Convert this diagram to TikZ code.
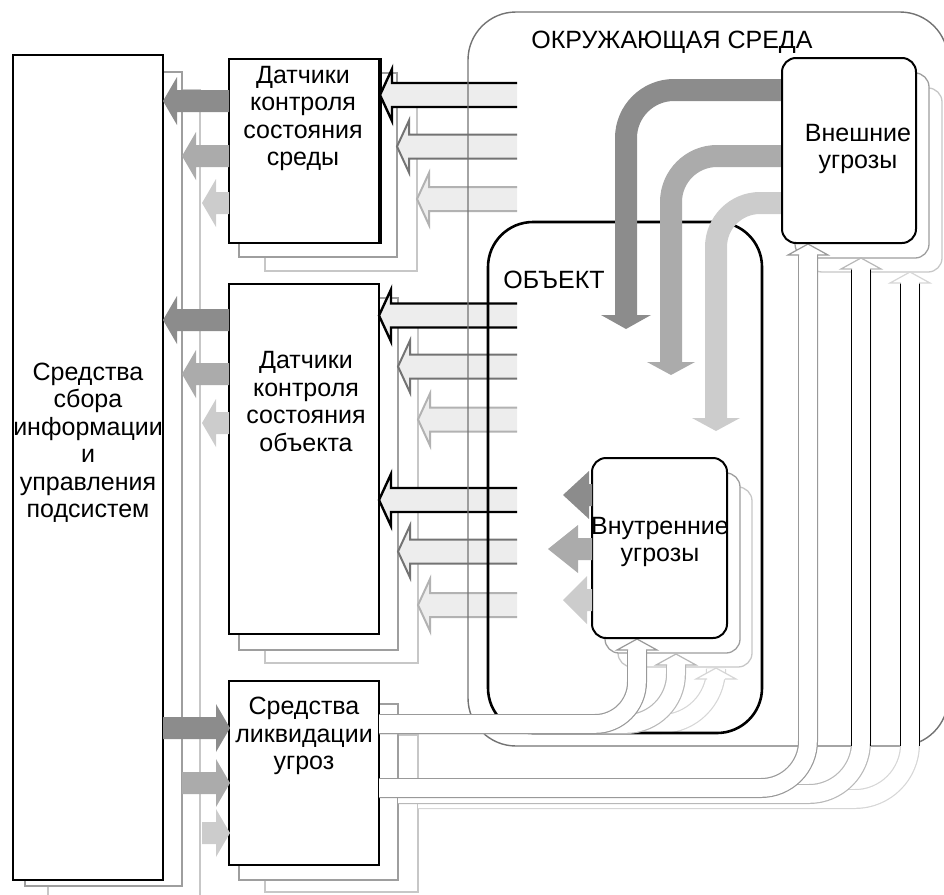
\documentclass[tikz,border=0pt]{standalone}
\usepackage{fontspec}
\setmainfont{Liberation Sans}
\definecolor{tone1}{gray}{0.55}
\definecolor{tone2}{gray}{0.67}
\definecolor{tone3}{gray}{0.80}
\definecolor{shaft}{gray}{0.93}
\definecolor{inmid}{gray}{0.45}
\definecolor{inlight}{gray}{0.70}
\definecolor{ghostline}{gray}{0.62}
\definecolor{ghostfarline}{gray}{0.78}
\definecolor{envline}{gray}{0.45}
\definecolor{pipenear}{gray}{0.60}
\definecolor{pipemid}{gray}{0.72}
\definecolor{pipefar}{gray}{0.84}
\tikzset{
  box/.style={draw, line width=1.6pt, fill=white, inner sep=0pt},
  ghost/.style={draw=ghostline, line width=1.3pt, fill=white},
  ghostfar/.style={draw=ghostfarline, line width=1.3pt, fill=white},
  caption/.style={align=center, inner sep=0pt, font=\fontsize{25}{27.5}\selectfont},
  pipe/.style={double=white, double distance=17.6pt, line width=1.2pt},
}
% hollow arrow into a sensor block: colour, centre y, tip x, line width
\newcommand{\inflow}[4]{%
  \filldraw[draw=#1, fill=shaft, line width=#4] (517,{#2-12}) -- ({#3+12},{#2-12}) -- ({#3+12},{#2-26})
    -- (#3,#2) -- ({#3+12},{#2+26}) -- ({#3+12},{#2+12}) -- (517,{#2+12});}
% solid arrow: colour, centre y, tip x, tail x, head length (negative points right)
\newcommand{\outflow}[5]{%
  \fill[#1] (#4,{#2-11}) -- ({#3+(#5)},{#2-11}) -- ({#3+(#5)},{#2-24}) -- (#3,#2)
    -- ({#3+(#5)},{#2+24}) -- ({#3+(#5)},{#2+11}) -- (#4,{#2+11}) -- cycle;}
% open head on a pipe: colour, x, tip y
\newcommand{\pipehead}[3]{%
  \fill[white] ({#2-20},{#3+11}) -- (#2,#3) -- ({#2+20},{#3+11}) -- cycle;
  \draw[#1, line width=1.2pt] ({#2-9},{#3+11}) -- ({#2-20},{#3+11}) -- (#2,#3)
    -- ({#2+20},{#3+11}) -- ({#2+9},{#3+11});}
\begin{document}
\begin{tikzpicture}[x=1pt,y=-1pt]
  \useasboundingbox (0,0) rectangle (944,894);
  % stacked copies of the blocks
  \draw[ghostfar] (48,90) rectangle (200,900);
  \draw[ghost] (25,72) rectangle (182,886);
  \draw[ghostfar] (265,87) rectangle (417,271);
  \draw[ghost] (239,73) rectangle (397,257);
  \draw[ghostfar] (265,312) rectangle (418,663);
  \draw[ghost] (239,298) rectangle (398,650);
  \draw[ghostfar] (265,735) rectangle (418,892);
  \draw[ghost] (239,704) rectangle (398,880);
  % blocks
  \node[box, minimum width=150pt, minimum height=825pt] (hub) at (88,467.5) {};
  \node[box, minimum width=150pt, minimum height=184pt] (sensEnv) at (304,151) {};
  \draw[line width=4pt] (sensEnv.north east) -- (sensEnv.south east);
  \node[box, minimum width=150pt, minimum height=350pt] (sensObj) at (304,459) {};
  \node[box, minimum width=150pt, minimum height=184pt] (elim) at (304,773) {};
  \node[caption] (hubText) at (88,443) {Средства\\сбора\\информации\\и\\управления\\подсистем};
  \node[caption] (sensEnvText) at (303,118.5) {Датчики\\контроля\\состояния\\среды};
  \node[caption] (sensObjText) at (306,401.5) {Датчики\\контроля\\состояния\\объекта};
  \node[caption] (elimText) at (304,736) {Средства\\ликвидации\\угроз};
  % signals into the sensors
  \inflow{black}{95}{380}{2.4pt}
  \inflow{inmid}{146.5}{397}{2pt}
  \inflow{inlight}{199}{417}{2pt}
  \inflow{black}{315.5}{379}{2.4pt}
  \inflow{inmid}{366.5}{398}{2pt}
  \inflow{inlight}{419.5}{418}{2pt}
  \inflow{black}{500}{379}{2.4pt}
  \inflow{inmid}{551.5}{398}{2pt}
  \inflow{inlight}{605}{418}{2pt}
  % sensors to the hub, hub to the elimination block
  \outflow{tone1}{101}{163}{229}{14}
  \outflow{tone2}{156}{182}{229}{14}
  \outflow{tone3}{203}{202}{229}{14}
  \outflow{tone1}{320}{163}{229}{14}
  \outflow{tone2}{374}{182}{229}{14}
  \outflow{tone3}{423}{202}{229}{14}
  \outflow{tone1}{728}{230}{163}{-14}
  \outflow{tone2}{783}{230}{182}{-14}
  \outflow{tone3}{833}{230}{202}{-14}
  % environment
  \node[draw=envline, line width=1.4pt, rounded corners=48pt, minimum width=480pt, minimum height=734pt] (env) at (708,379) {};
  \draw[ghostfar, rounded corners=14pt] (808,88) rectangle (942,272);
  \draw[ghost, rounded corners=14pt] (795,73) rectangle (929,258);
  \draw[ghostfar, rounded corners=14pt] (618,487) rectangle (752,667);
  \draw[ghost, rounded corners=14pt] (605,473) rectangle (740,653);
  % pipes from the elimination block
  \draw[pipe, draw=pipefar, rounded corners=55pt] (379,724) -- (716,724) -- (716,679);
  \node[draw, line width=2.6pt, rounded corners=45pt, minimum width=274pt, minimum height=511pt] (obj) at (625,477.5) {};
  \draw[pipe, draw=pipemid, rounded corners=50pt] (379,724) -- (676,724) -- (676,665);
  \draw[pipe, draw=pipenear, rounded corners=42pt] (379,724) -- (637,724) -- (637,650);
  \pipehead{pipefar}{716}{668}
  \pipehead{pipemid}{676}{654}
  \pipehead{pipenear}{637}{639}
  \draw[pipe, draw=pipefar, rounded corners=55pt] (418,799) -- (910,799) -- (910,283);
  \draw[pipe, draw=pipemid, rounded corners=52pt] (398,794) -- (861,794) -- (861,269);
  \draw[pipe, draw=pipenear, rounded corners=47pt] (379,788) -- (808,788) -- (808,255);
  \draw[line width=1.6pt] (851.4,269) -- (851.4,746) (870.6,269) -- (870.6,746)
    (900.4,283) -- (900.4,746) (919.6,283) -- (919.6,746);
  \pipehead{pipefar}{910}{272}
  \pipehead{pipemid}{861}{258}
  \pipehead{pipenear}{808}{244}
  % external threats reaching the object
  \draw[line width=22pt, tone3, rounded corners=44pt] (782,203) -- (716,203) -- (716,419);
  \fill[tone3] (692,418) -- (740,418) -- (716,431) -- cycle;
  \draw[line width=22pt, tone2, rounded corners=46pt] (782,156) -- (671,156) -- (671,363);
  \fill[tone2] (647,362) -- (695,362) -- (671,375) -- cycle;
  \draw[line width=22pt, tone1, rounded corners=48pt] (782,90) -- (626,90) -- (626,316);
  \fill[tone1] (601,315) -- (651,315) -- (626,329) -- cycle;
  % threat blocks
  \node[box, line width=2pt, rounded corners=14pt, minimum width=134pt, minimum height=185pt] (extThreat) at (849,150.5) {};
  \node[box, line width=2pt, rounded corners=14pt, minimum width=135pt, minimum height=180pt] (intThreat) at (659.5,548) {};
  \node[caption] (extText) at (858,149) {Внешние\\угрозы};
  \node[caption] (intText) at (660,542) {Внутренние\\угрозы};
  \outflow{tone1}{495}{563}{592}{26}
  \outflow{tone2}{549}{548}{592}{30}
  \outflow{tone3}{600}{563}{592}{24}
  \node[caption] (envText) at (672,42) {ОКРУЖАЮЩАЯ СРЕДА};
  \node[caption] (objText) at (554,280) {ОБЪЕКТ};
\end{tikzpicture}
\end{document}
